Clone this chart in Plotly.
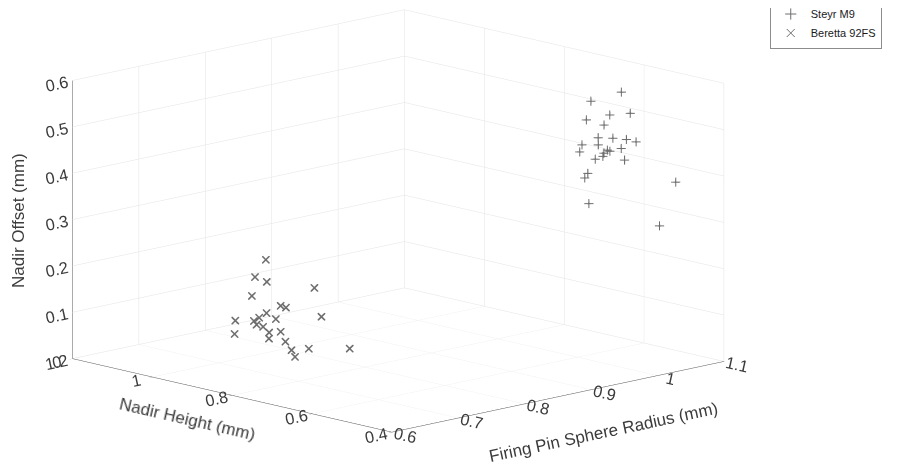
import plotly.graph_objects as go

# Steyr M9 measurements (mm)
steyr_radius = [1.00, 0.98, 1.00, 1.02, 0.99, 1.01, 1.00, 0.98, 1.01, 1.03, 0.99, 1.02, 0.98,
                1.00, 0.99, 1.01, 1.01, 0.98, 1.00, 1.00, 0.99, 1.05, 1.01, 1.04, 1.02]
steyr_height = [0.491, 0.534, 0.520, 0.502, 0.562, 0.551, 0.549, 0.479, 0.495, 0.504, 0.573, 0.582, 0.562,
                0.526, 0.518, 0.508, 0.573, 0.504, 0.483, 0.575, 0.566, 0.438, 0.589, 0.462, 0.553]
steyr_offset = [0.594, 0.572, 0.539, 0.540, 0.523, 0.508, 0.484, 0.503, 0.488, 0.475, 0.467, 0.456, 0.457,
                0.462, 0.460, 0.466, 0.430, 0.459, 0.449, 0.402, 0.397, 0.395, 0.331, 0.299, 0.448]

# Beretta 92FS measurements (mm)
beretta_radius = [0.70, 0.68, 0.72, 0.70, 0.74, 0.70, 0.72, 0.66, 0.68, 0.70, 0.72, 0.70,
                  0.72, 0.68, 0.70, 0.68, 0.72, 0.68, 0.70, 0.70, 0.72, 0.70, 0.74, 0.70]
beretta_height = [0.882, 0.876, 0.913, 0.917, 0.827, 0.845, 0.865, 0.892, 0.847, 0.857, 0.776, 0.912,
                  0.932, 0.872, 0.889, 0.927, 0.907, 0.841, 0.845, 0.833, 0.851, 0.809, 0.841, 0.672]
beretta_offset = [0.246, 0.216, 0.186, 0.161, 0.184, 0.154, 0.140, 0.125, 0.144, 0.123, 0.138, 0.108,
                  0.105, 0.114, 0.100, 0.083, 0.078, 0.090, 0.098, 0.079, 0.051, 0.051, 0.050, 0.096]

MARK = "#6e6e6e"
TXT = "#3c3c3c"
FONT = "Liberation Sans, Arial, sans-serif"
S = 1.94  # ortho zoom is done through the aspect ratio

# view direction (az ~ 44 deg, el ~ 13 deg) and a shifted look-at point
view = (-0.676 * 2, -0.7027 * 2, 0.2215 * 2)
look = (0.0987 * S, -0.0987 * S, -0.0872 * 0.619 * S)

fig = go.Figure()
fig.add_trace(go.Scatter3d(
    x=steyr_radius, y=steyr_height, z=steyr_offset, mode="markers",
    marker=dict(symbol="cross", size=5, color=MARK), showlegend=False,
))
fig.add_trace(go.Scatter3d(
    x=beretta_radius, y=beretta_height, z=beretta_offset, mode="markers",
    marker=dict(symbol="x", size=1.8, color=MARK), showlegend=False,
))
# legend entries with thin MATLAB-like symbols
for name, sym in [("Steyr M9", "cross-thin-open"), ("Beretta 92FS", "x-thin-open")]:
    fig.add_trace(go.Scatter(
        x=[None], y=[None], mode="markers", name=name,
        marker=dict(symbol=sym, size=8, color=MARK, line=dict(width=1, color=MARK)),
    ))

axis_common = dict(
    showbackground=False, showgrid=True, gridcolor="#e3e3e3", gridwidth=1,
    zeroline=False, showline=True, linecolor="#555555", linewidth=1,
    ticks="outside", ticklen=4, tickcolor="#555555",
    tickfont=dict(family=FONT, size=14, color=TXT),
    showspikes=False, title=dict(text=""),
)

fig.update_layout(
    template="none",
    width=909, height=475,
    paper_bgcolor="white", plot_bgcolor="rgba(0,0,0,0)",
    margin=dict(l=0, r=0, t=0, b=0, autoexpand=False),
    font=dict(family=FONT, size=12, color=TXT),
    xaxis=dict(visible=False, domain=[0.99, 1.0]),
    yaxis=dict(visible=False, domain=[0.99, 1.0]),
    scene=dict(
        domain=dict(x=[0.0, 1.0], y=[0.0, 1.0]),
        xaxis=dict(range=[0.6, 1.1], dtick=0.1, **axis_common),
        yaxis=dict(range=[0.4, 1.2], dtick=0.2, **{**axis_common, "ticklen": 1}),
        zaxis=dict(range=[0, 0.6], dtick=0.1,
                   **{**axis_common, "ticklen": 18, "tickcolor": "rgba(0,0,0,0)"}),
        aspectmode="manual",
        aspectratio=dict(x=S, y=S, z=0.619 * S),
        camera=dict(
            eye=dict(x=look[0] + view[0], y=look[1] + view[1], z=look[2] + view[2]),
            up=dict(x=0, y=0, z=1),
            center=dict(x=look[0], y=look[1], z=look[2]),
            projection=dict(type="orthographic"),
        ),
    ),
    showlegend=True,
    legend=dict(
        x=0.838, y=1.02, xanchor="left", yanchor="top",
        bgcolor="white", bordercolor="#8c8c8c", borderwidth=1,
        font=dict(family=FONT, size=11, color="#1a1a1a"),
        tracegroupgap=0, itemwidth=30,
    ),
    annotations=[
        dict(text="Nadir Offset (mm)", x=0.0121, y=0.5537, xref="paper", yref="paper",
             xanchor="center", yanchor="middle",
             showarrow=False, textangle=-90, font=dict(size=17, color=TXT)),
        dict(text="Nadir Height (mm)", x=0.198, y=0.1347, xref="paper", yref="paper",
             xanchor="center", yanchor="middle",
             showarrow=False, textangle=13, font=dict(size=17, color=TXT)),
        dict(text="Firing Pin Sphere Radius (mm)", x=0.6546, y=0.1053, xref="paper", yref="paper",
             xanchor="center", yanchor="middle",
             showarrow=False, textangle=-12, font=dict(size=17, color=TXT)),
    ],
)

fig.write_html("out.html")
